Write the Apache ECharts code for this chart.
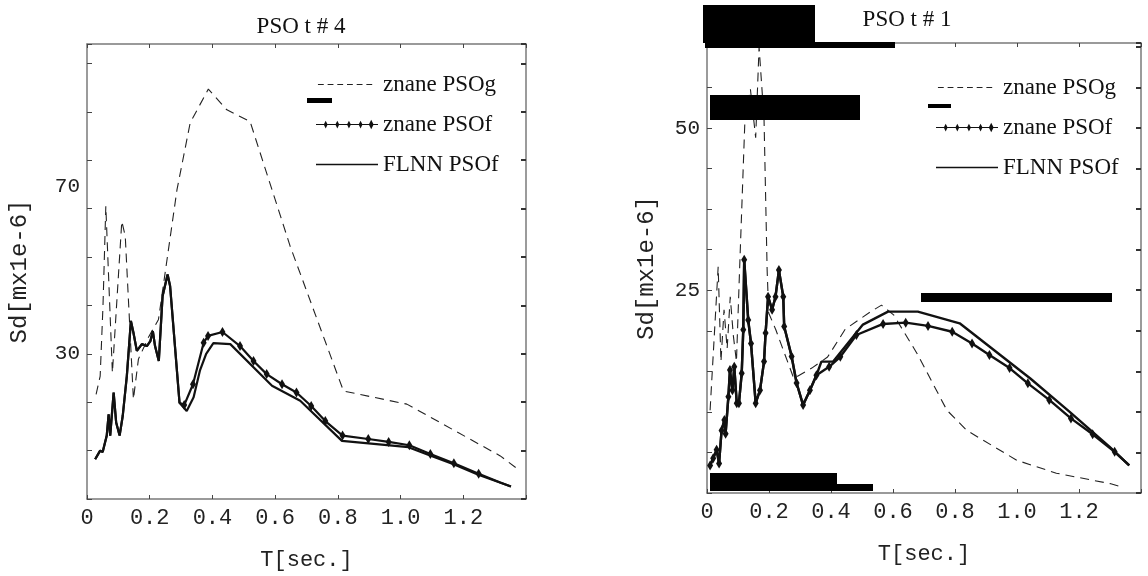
<!DOCTYPE html>
<html><head><meta charset="utf-8">
<script src="https://cdn.jsdelivr.net/npm/echarts/dist/echarts.min.js"></script>
<style>html,body{margin:0;padding:0;background:#fff}#c{width:1148px;height:576px}</style>
</head><body><div id="c"></div>
<script>
// ---------- tick labels ----------
const xTickLabels = ['0', '0.2', '0.4', '0.6', '0.8', '1.0', '1.2'];
const leftYTickLabels = [30, 70];
const rightYTickLabels = [25, 50];
const titles = ['PSO t # 4', 'PSO t # 1'];
const seriesNames = ['znane PSOg', 'znane PSOf', 'FLNN PSOf'];

// ---------- left panel (PSO t # 4) ----------
const leftPSOgT = [0.029,0.042,0.051,0.060,0.081,0.111,0.122,0.148,0.164,0.196,0.228,0.287,0.329,0.387,0.446,0.520,0.648,0.818,1.020,1.318,1.367];
const leftPSOgV = [21.6,25.4,39.9,60.5,26.1,57.4,54.3,20.6,28.9,33.4,37.1,63.9,77.7,84.7,80.4,78.0,52.2,22.3,19.6,8.9,6.5];

const leftEarlyT = [0.026,0.042,0.050,0.063,0.069,0.074,0.085,0.093,0.104,0.114,0.127,0.140,0.148,0.159,0.175,0.191,0.202,0.210,0.217,0.229,0.241,0.257,0.265,0.295];
const leftEarlyV = [8.2,10.0,9.7,13.1,17.5,13.1,22.0,15.8,13.1,17.2,25.4,36.8,34.4,30.6,32.0,31.6,32.6,34.7,31.6,28.5,41.9,46.4,44.0,19.9];

const leftFLNNT = [0.318,0.340,0.360,0.380,0.403,0.457,0.590,0.680,0.813,1.025,1.094,1.169,1.248,1.352];
const leftFLNNV = [18.2,21.0,26.5,30.0,32.2,32.0,23.4,20.3,12.0,10.7,9.0,7.2,5.0,2.6];

const leftPSOfT = [0.310,0.338,0.372,0.386,0.432,0.488,0.531,0.573,0.622,0.668,0.715,0.760,0.815,0.897,0.962,1.028,1.095,1.170,1.249,1.318,1.352];
const leftPSOfV = [19.4,23.7,32.3,33.7,34.5,31.6,28.5,25.8,23.7,22.0,19.2,16.1,13.1,12.4,11.8,11.1,9.3,7.4,5.2,3.4,2.6];

// ---------- right panel (PSO t # 1) ----------
const rightPSOgT = [0.010,0.020,0.036,0.045,0.055,0.065,0.075,0.085,0.095,0.105,0.122,0.140,0.157,0.168,0.184,0.194,0.199,0.222,0.280,0.338,0.389,0.446,0.528,0.563,0.602,0.677,0.774,0.838,0.999,1.127,1.300,1.330];
const rightPSOgV = [6.5,15.0,28.6,14.0,22.0,16.0,24.0,18.0,14.0,28.0,50.8,56.0,48.5,62.5,51.3,28.1,21.5,18.9,11.4,13.0,14.7,19.0,21.7,22.7,21.2,15.3,6.5,3.4,-1.2,-3.2,-4.8,-5.2];

const rightEarlyT = [0.010,0.020,0.031,0.039,0.047,0.056,0.060,0.069,0.074,0.082,0.088,0.096,0.103,0.112,0.117,0.120,0.133,0.142,0.157,0.171,0.184,0.189,0.197,0.210,0.221,0.232,0.246,0.249,0.273,0.289,0.310,0.332,0.353];
const rightEarlyV = [-2.0,-0.9,0.4,-1.7,3.4,5.0,2.9,8.6,12.7,9.6,13.2,7.6,7.6,12.2,18.9,29.7,20.4,16.8,7.6,9.6,14.0,18.4,24.0,22.0,24.0,28.1,24.0,19.4,14.8,10.7,7.3,9.6,11.9];

const rightFLNNT = [0.369,0.407,0.503,0.584,0.680,0.815,1.043,1.169,1.298,1.362];
const rightFLNNV = [14.0,14.0,19.7,21.7,21.7,19.9,11.4,6.3,0.9,-2.0];

const rightPSOfT = [0.394,0.430,0.482,0.568,0.641,0.713,0.791,0.855,0.911,0.976,1.035,1.104,1.174,1.244,1.315,1.362];
const rightPSOfV = [13.2,14.75,18.1,19.8,20.0,19.5,18.6,16.8,15.0,13.0,10.65,8.1,5.25,2.8,0.1,-2.0];

// ---------- build ----------
const zip = (t, v) => t.map((x, i) => [x, v[i]]);
const MONO = 'Liberation Mono';
const SERIF = 'Liberation Serif';
const INK = '#111';
const FRAME = '#7a7a7a';

// legend icons (bounding box 0..64 x 0..12 kept by degenerate corner points)
const BOX = 'M0,0L0.01,0Z M64,12L63.99,12Z ';
const psogIcon = 'path://' + BOX +
  'M2,5.5L8,5.5L8,6.6L2,6.6Z M12,5.5L18,5.5L18,6.6L12,6.6Z M22,5.5L28,5.5L28,6.6L22,6.6Z M32,5.5L38,5.5L38,6.6L32,6.6Z M42,5.5L48,5.5L48,6.6L42,6.6Z M52,5.5L58,5.5L58,6.6L52,6.6Z';
const psofIcon = 'path://' + BOX + 'M0,5.5L64,5.5L64,6.6L0,6.6Z' +
  'M10,2L12,6L10,10L8,6Z M22,2L24,6L22,10L20,6Z M34,2L36,6L34,10L32,6Z M46,2L48,6L46,10L44,6Z M57,1L59.5,6L57,11L54.5,6Z';
const flnnIcon = 'path://' + BOX + 'M0,5.3L64,5.3L64,6.8L0,6.8Z';

function xAxes(grid, nameGap) {
  return [{
    gridIndex: grid, type: 'value', min: 0, max: 1.4, interval: 0.2, position: 'bottom',
    axisLine: { onZero: false, lineStyle: { color: FRAME, width: 1.5 } },
    axisTick: { inside: true, length: 4, lineStyle: { color: '#444' } },
    splitLine: { show: false },
    axisLabel: {
      margin: 8, color: '#222', fontFamily: MONO, fontSize: 22,
      formatter: v => { const i = Math.round(v / 0.2); return (i < xTickLabels.length && Math.abs(v - i * 0.2) < 1e-6) ? xTickLabels[i] : ''; }
    },
    name: 'T[sec.]', nameLocation: 'middle', nameGap: nameGap,
    nameTextStyle: { fontFamily: MONO, fontSize: 22, color: '#222' }
  }, {
    gridIndex: grid, type: 'value', min: 0, max: 1.4, interval: 0.2, position: 'top',
    axisLine: { onZero: false, lineStyle: { color: FRAME, width: 1.5 } },
    axisTick: { inside: true, length: 4, lineStyle: { color: '#444' } },
    axisLabel: { show: false }, splitLine: { show: false }
  }];
}

function yAxes(grid, min, max, interval, labels, shifted, nameGap) {
  return [{
    gridIndex: grid, type: 'value', min: min, max: max, interval: interval, position: 'left',
    axisLine: { show: true, onZero: false, lineStyle: { color: FRAME, width: 1.5 } },
    axisTick: { show: true, inside: true, length: 5, lineStyle: { color: '#444' } },
    splitLine: { show: false },
    axisLabel: {
      margin: 7, color: '#222', fontFamily: MONO, fontSize: 21,
      formatter: v => {
        const hit = labels.find(l => Math.abs(l - v) < 1e-6);
        if (hit === undefined) return '';
        return hit === shifted ? '{s|' + hit + '}' : String(hit);
      },
      rich: { s: { padding: [52, 0, 0, 0], fontFamily: MONO, fontSize: 21, color: '#222' } }
    },
    name: 'Sd[mx1e-6]', nameLocation: 'middle', nameGap: nameGap,
    nameTextStyle: { fontFamily: MONO, fontSize: 24, color: '#222' }
  }, {
    gridIndex: grid, type: 'value', min: min, max: max, interval: interval, position: 'right',
    axisLine: { show: true, onZero: false, lineStyle: { color: FRAME, width: 1.5 } },
    axisTick: { show: true, inside: true, length: 5, lineStyle: { color: '#333', width: 2 } },
    axisLabel: { show: false }, splitLine: { show: false }
  }];
}

function legend(left, top) {
  return {
    orient: 'vertical', left: left, top: top, itemWidth: 62, itemHeight: 12, itemGap: 17,
    textStyle: { fontFamily: SERIF, fontSize: 23, color: INK },
    data: [{ name: seriesNames[0], icon: psogIcon }, { name: seriesNames[1], icon: psofIcon }, { name: seriesNames[2], icon: flnnIcon }]
  };
}

const dashStyle = { color: '#222', width: 1.1, type: [9, 6] };

const series = [
  { name: seriesNames[0], type: 'line', xAxisIndex: 0, yAxisIndex: 0, data: zip(leftPSOgT, leftPSOgV),
    symbol: 'none', lineStyle: dashStyle, itemStyle: { color: '#222' }, z: 2 },
  { name: seriesNames[2], type: 'line', xAxisIndex: 0, yAxisIndex: 0,
    data: zip(leftEarlyT.concat(leftFLNNT), leftEarlyV.concat(leftFLNNV)),
    symbol: 'none', lineStyle: { color: INK, width: 2.2 }, itemStyle: { color: INK }, z: 3 },
  { name: seriesNames[1], type: 'line', xAxisIndex: 0, yAxisIndex: 0,
    data: zip(leftEarlyT.concat(leftPSOfT), leftEarlyV.concat(leftPSOfV)),
    symbol: v => (v[0] >= 0.30 && v[0] <= 1.26) ? 'diamond' : 'none', symbolSize: [6, 10], showSymbol: true,
    lineStyle: { color: INK, width: 2.2 }, itemStyle: { color: INK }, z: 4 },

  { name: seriesNames[0], type: 'line', xAxisIndex: 2, yAxisIndex: 2, data: zip(rightPSOgT, rightPSOgV),
    symbol: 'none', lineStyle: dashStyle, itemStyle: { color: '#222' }, z: 2 },
  { name: seriesNames[2], type: 'line', xAxisIndex: 2, yAxisIndex: 2,
    data: zip(rightEarlyT.concat(rightFLNNT), rightEarlyV.concat(rightFLNNV)),
    symbol: 'none', lineStyle: { color: INK, width: 2.4 }, itemStyle: { color: INK }, z: 3 },
  { name: seriesNames[1], type: 'line', xAxisIndex: 2, yAxisIndex: 2,
    data: zip(rightEarlyT.concat(rightPSOfT), rightEarlyV.concat(rightPSOfV)),
    symbol: v => (v[0] < 1.34) ? 'diamond' : 'none', symbolSize: [6, 10], showSymbol: true,
    lineStyle: { color: INK, width: 2.4 }, itemStyle: { color: INK }, z: 4 }
];

// scan artefacts (solid black blotches in the reference picture)
const blotch = (x, y, w, h) => ({ type: 'rect', left: x, top: y, shape: { width: w, height: h }, style: { fill: '#000' }, z: 100 });

const chart = echarts.init(document.getElementById('c'), null, { renderer: 'canvas' });
chart.setOption({
  animation: false,
  backgroundColor: '#fff',
  title: [
    { text: titles[0], left: 296, top: 10, textAlign: 'center', textStyle: { fontFamily: SERIF, fontSize: 23, fontWeight: 'normal', color: INK } },
    { text: titles[1], left: 902, top: 3, textAlign: 'center', textStyle: { fontFamily: SERIF, fontSize: 23, fontWeight: 'normal', color: INK } }
  ],
  legend: [legend(311, 68), legend(931, 71)],
  grid: [
    { left: 87, top: 44, width: 439, height: 456 },
    { left: 707, top: 43, width: 434, height: 450 }
  ],
  xAxis: [...xAxes(0, 50), ...xAxes(1, 50)],
  yAxis: [
    ...yAxes(0, 0, 94, 10, leftYTickLabels, 70, 55),
    ...yAxes(1, -6.25, 63.1, 6.25, rightYTickLabels, null, 48)
  ],
  series: series,
  graphic: [
    blotch(703, 5, 112, 38), blotch(705, 42, 190, 6),
    blotch(710, 95, 150, 25), blotch(928, 104, 23, 4),
    blotch(921, 293, 191, 9),
    blotch(710, 473, 127, 18), blotch(837, 484, 36, 7),
    blotch(307, 98, 25, 5)
  ]
});
</script></body></html>
